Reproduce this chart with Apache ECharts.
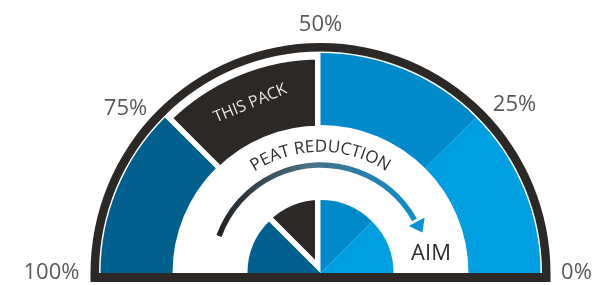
<!DOCTYPE html>
<html>
<head>
<meta charset="utf-8">
<script src="https://cdn.jsdelivr.net/npm/echarts/dist/echarts.min.js"></script>
<style>
html,body{margin:0;padding:0;background:#fff;}
#main{width:592px;height:285px;}
</style>
</head>
<body>
<div id="main"></div>
<script>
// ---- data (left = 100%, right = 0%)
var bandNames = ['75-100%', '50-75%', '25-50%', '0-25%'];
var bandShares = [25, 25, 25, 25];
var packIndex = 1;
var packLabel = 'THIS PACK';
var tickValues = [100, 75, 50, 25, 0];
var tickLabels = ['100%', '75%', '50%', '25%', '0%'];
var arrowLabel = 'PEAT REDUCTION';
var aimLabel = 'AIM';

// ---- layout / styles
var CX = 320.5, CY = 273;
var FONT = '"Open Sans", sans-serif';
var bandColors = ['#00608d', '#2c2825', '#008ac9', '#009fe2'];
var DARK = '#2c2825';
var TEXT = '#2e2e2e';
var NONE = 'rgba(0,0,0,0)';
var tickRadius = 256;
var tickNudge = [[-13, 0], [-14, 17], [0, 8], [13, 13], [0, 0]];
var D = Math.PI / 180;

var total = bandShares.reduce(function (a, b) { return a + b; }, 0);

// pie data: upper half holds the bands, lower half is an invisible filler
function halfPie(pick) {
    var list = bandShares.map(function (v, i) {
        var shown = pick(i);
        return {
            name: bandNames[i],
            value: v,
            itemStyle: { color: shown ? bandColors[i] : NONE }
        };
    });
    list.push({ name: '', value: total, itemStyle: { color: NONE } });
    return list;
}

function pieBase(radius, z, data) {
    return {
        type: 'pie',
        center: [CX, CY],
        radius: radius,
        startAngle: 180,
        clockwise: true,
        z: z,
        silent: true,
        avoidLabelOverlap: false,
        label: { show: false },
        labelLine: { show: false },
        emphasis: { disabled: true },
        data: data
    };
}

// gray "this pack" slices sit under the blues with a wide white stroke, so the gap falls on their side
var outerPack = halfPie(function (i) { return i === packIndex; });
outerPack[packIndex].itemStyle.borderColor = '#fff';
outerPack[packIndex].itemStyle.borderWidth = 11;
outerPack[packIndex].label = {
    show: true,
    position: 'inside',
    rotate: 'tangential',
    formatter: packLabel,
    color: '#e4e4e4',
    fontSize: 16,
    fontFamily: FONT
};
var innerPack = halfPie(function (i) { return i === packIndex; });
innerPack[packIndex].itemStyle.borderColor = '#fff';
innerPack[packIndex].itemStyle.borderWidth = 11;

// rim of the gauge
var rim = [{ value: 1, itemStyle: { color: DARK } }, { value: 1, itemStyle: { color: NONE } }];

// ---- curved "PEAT REDUCTION" text, letter by letter
var ctx = document.createElement('canvas').getContext('2d');
ctx.font = '17px ' + FONT;
var chars = arrowLabel.split('');
var widths = chars.map(function (c) { return ctx.measureText(c).width; });
var textW = widths.reduce(function (a, b) { return a + b; }, 0);
var baseR = 121;
var start = Math.PI / 2 + textW / baseR / 2;
var letters = [];
var run = 0;
chars.forEach(function (c, i) {
    var a = start - (run + widths[i] / 2) / baseR;
    run += widths[i];
    letters.push({
        type: 'text',
        x: CX + (baseR + 5) * Math.cos(a),
        y: CY - (baseR + 5) * Math.sin(a),
        rotation: a - Math.PI / 2,
        style: { text: c, font: '17px ' + FONT, fill: TEXT, align: 'center', verticalAlign: 'middle' }
    });
});

// ---- arrow under the text
var arrowR = 108;
var headA = 28 * D;
var rad = [Math.cos(headA), -Math.sin(headA)];
var tan = [Math.sin(headA), Math.cos(headA)];
var hb = [CX + (arrowR + 1) * rad[0], CY + (arrowR + 1) * rad[1]];
var head = [
    [hb[0] + 9 * rad[0], hb[1] + 9 * rad[1]],
    [hb[0] - 9 * rad[0], hb[1] - 9 * rad[1]],
    [hb[0] + 12 * tan[0], hb[1] + 12 * tan[1]]
];

var myChart = echarts.init(document.getElementById('main'));
myChart.setOption({
    animation: false,
    polar: { center: [CX, CY], radius: 300 },
    angleAxis: { type: 'value', min: 0, max: 200, startAngle: 0, clockwise: false, show: false },
    radiusAxis: { type: 'value', min: 0, max: 300, show: false },
    graphic: [
        // base bar
        { type: 'rect', z: 100, shape: { x: CX - 230, y: CY, width: 460, height: 9 }, style: { fill: DARK } },
        {
            type: 'arc',
            shape: { cx: CX, cy: CY, r: arrowR, startAngle: -160 * D, endAngle: -29.5 * D, clockwise: true },
            style: {
                fill: null,
                lineWidth: 5.5,
                stroke: new echarts.graphic.LinearGradient(212, 0, 420, 0, [
                    { offset: 0, color: '#1f1c1d' },
                    { offset: 0.45, color: '#4c6f82' },
                    { offset: 1, color: '#0a8ed0' }
                ], true)
            }
        },
        { type: 'polygon', shape: { points: head }, style: { fill: '#0b90d1' } },
        {
            type: 'text', x: 431, y: 254,
            style: { text: aimLabel, font: '22px ' + FONT, fill: TEXT, align: 'center', verticalAlign: 'middle' }
        }
    ].concat(letters),
    series: [
        pieBase([142, 219], 1, outerPack),
        pieBase([148, 220], 2, halfPie(function (i) { return i !== packIndex; })),
        pieBase([0, 78.5], 1, innerPack),
        pieBase([0, 73], 2, halfPie(function (i) { return i !== packIndex; })),
        pieBase([221.5, 230], 3, rim),
        {
            type: 'scatter',
            coordinateSystem: 'polar',
            symbolSize: 0,
            clip: false,
            silent: true,
            label: {
                show: true,
                position: 'inside',
                color: TEXT,
                fontSize: 22,
                fontFamily: FONT,
                formatter: function (p) { return tickLabels[p.dataIndex]; }
            },
            data: tickValues.map(function (t, i) {
                return { value: [tickRadius, t], label: { offset: tickNudge[i] } };
            })
        }
    ]
});
</script>
</body>
</html>
